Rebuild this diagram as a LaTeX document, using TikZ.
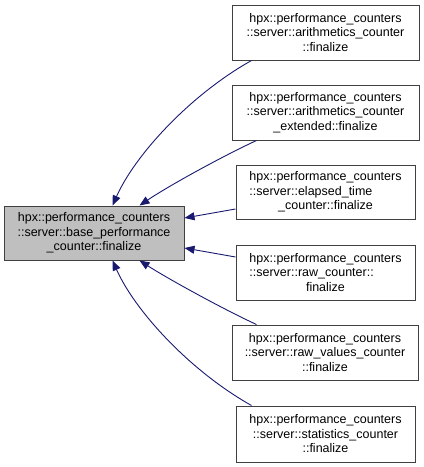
\documentclass[tikz,border=0pt]{standalone}
\usepackage{fontspec}
\setmainfont{Liberation Sans}
\usetikzlibrary{arrows.meta,calc}
\definecolor{edgeblue}{HTML}{191970}
\definecolor{boxline}{HTML}{404040}
\definecolor{mainfill}{HTML}{BFBFBF}
\begin{document}
\begin{tikzpicture}[x=1pt,y=-1pt,
  cls/.style={draw=boxline,line width=1pt,fill=white,inner sep=0pt,align=center,
    minimum height=55pt,font=\fontsize{12.5}{14.5}\selectfont},
  inh/.style={draw=edgeblue,line width=0.9pt,{Triangle[length=10pt,width=8pt]}-}]
\useasboundingbox (0,0) rectangle (424,467);
\node[cls,fill=mainfill,minimum width=180pt,minimum height=54pt] (m) at (94,233)
  {hpx::performance\_counters\\::server::base\_performance\\\_counter::finalize};
\node[cls,minimum width=187pt] (b1) at (325.5,32.5)
  {hpx::performance\_counters\\::server::arithmetics\_counter\\::finalize};
\node[cls,minimum width=187pt] (b2) at (325.5,112.5)
  {hpx::performance\_counters\\::server::arithmetics\_counter\\\_extended::finalize};
\node[cls,minimum width=179pt,minimum height=54pt] (b3) at (325.5,192)
  {hpx::performance\_counters\\\rlap{::server::elapsed\_time}\phantom{hpx::performance\_counters}\\\_counter::finalize};
\node[cls,minimum width=179pt] (b4) at (325.5,272.5)
  {hpx::performance\_counters\\\rlap{::server::raw\_counter::}\phantom{hpx::performance\_counters}\\finalize};
\node[cls,minimum width=186pt] (b5) at (325,352.5)
  {hpx::performance\_counters\\::server::raw\_values\_counter\\::finalize};
\node[cls,minimum width=179pt,minimum height=56pt] (b6) at (325.5,434)
  {hpx::performance\_counters\\::server::statistics\_counter\\::finalize};
\draw[inh] ($(m.north west)+(109,0)$) .. controls (135,155) and (190,95) .. ($(b1.south west)+(20,0)$);
\draw[inh] ($(m.north west)+(136,0)$) .. controls (170,185) and (225,155) .. ($(b2.south west)+(25,0)$);
\draw[inh] ($(m.east)+(0,-15)$) -- ($(b3.west)+(0,17)$);
\draw[inh] ($(m.east)+(0,15)$) -- ($(b4.west)+(0,-15.5)$);
\draw[inh] ($(m.south west)+(136,0)$) .. controls (170,280) and (225,310) .. ($(b5.north west)+(25,0)$);
\draw[inh] ($(m.south west)+(109,0)$) .. controls (135,311) and (190,371) .. ($(b6.north west)+(16,0)$);
\end{tikzpicture}
\end{document}
